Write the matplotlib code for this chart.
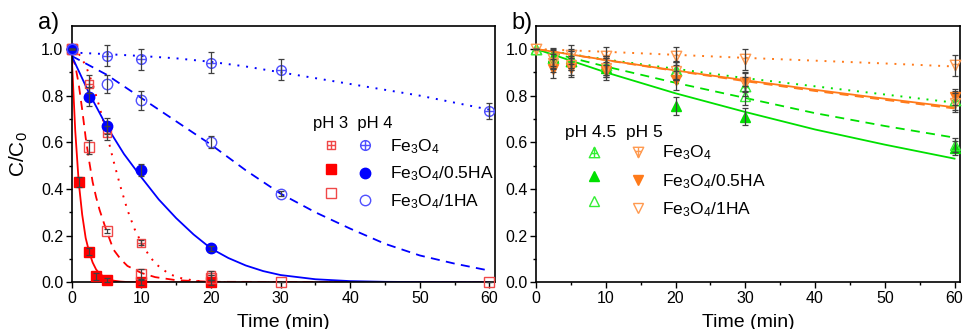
import matplotlib
matplotlib.use('Agg')
import matplotlib.pyplot as plt
from matplotlib.path import Path
import numpy as np

plt.rcParams['font.family'] = ['Liberation Sans', 'DejaVu Sans']
plt.rcParams['mathtext.fontset'] = 'custom'
plt.rcParams['mathtext.rm'] = 'Liberation Sans'
plt.rcParams['mathtext.default'] = 'regular'

# ---------------- panel a data (pH 3 red, pH 4 blue) ----------------
t_r_fe = [0, 2.5, 5, 10, 20]
c_r_fe = [1.0, 0.85, 0.64, 0.17, 0.03]
e_r_fe = [0, 0.04, 0.03, 0.01, 0.02]

t_r_05 = [0, 1, 2.5, 3.5, 5, 10, 20]
c_r_05 = [1.0, 0.43, 0.13, 0.025, 0.01, 0.0, 0.0]
e_r_05 = [0, 0.02, 0.015, 0.015, 0.01, 0.01, 0.01]

t_r_1 = [0, 2.5, 5, 10, 20, 30, 60]
c_r_1 = [1.0, 0.58, 0.22, 0.035, 0.02, 0.0, 0.0]
e_r_1 = [0, 0.03, 0.01, 0.02, 0.01, 0, 0]

t_b_fe = [0, 5, 10, 20, 30, 60]
c_b_fe = [1.0, 0.97, 0.955, 0.94, 0.91, 0.735]
e_b_fe = [0, 0.045, 0.045, 0.045, 0.045, 0.035]

t_b_05 = [0, 2.5, 5, 10, 20]
c_b_05 = [1.0, 0.795, 0.67, 0.48, 0.145]
e_b_05 = [0, 0.04, 0.035, 0.025, 0.01]

t_b_1 = [0, 5, 10, 20, 30]
c_b_1 = [1.0, 0.85, 0.78, 0.60, 0.38]
e_b_1 = [0, 0.04, 0.04, 0.025, 0.01]

# fitted curves
ft_r_fe = [0, 1, 2, 3, 4, 5, 6, 7, 8, 9, 10, 11, 12, 14, 16, 18, 20, 25, 60]
fc_r_fe = [1.0, 0.98, 0.93, 0.85, 0.75, 0.64, 0.52, 0.41, 0.31, 0.23, 0.17, 0.12, 0.08, 0.035, 0.015, 0.006, 0.002, 0, 0]
ft_r_05 = [0, 0.5, 1, 1.5, 2, 2.5, 3, 3.5, 4, 5, 6, 7, 8, 10, 60]
fc_r_05 = [0.97, 0.65, 0.43, 0.29, 0.19, 0.13, 0.085, 0.055, 0.037, 0.016, 0.007, 0.003, 0.001, 0, 0]
ft_r_1 = [0, 0.5, 1, 1.5, 2, 2.5, 3, 3.5, 4, 5, 6, 7, 8, 10, 12, 15, 20, 60]
fc_r_1 = [0.97, 0.93, 0.85, 0.74, 0.62, 0.52, 0.43, 0.365, 0.31, 0.22, 0.14, 0.10, 0.07, 0.04, 0.022, 0.009, 0.002, 0]
ft_b_fe = [0, 5, 10, 15, 20, 25, 30, 35, 40, 45, 50, 55, 60]
fc_b_fe = [0.985, 0.978, 0.97, 0.96, 0.945, 0.925, 0.90, 0.875, 0.85, 0.825, 0.80, 0.77, 0.74]
ft_b_05 = [0, 2.5, 5, 7.5, 10, 12.5, 15, 17.5, 20, 22.5, 25, 27.5, 30, 35, 40, 45, 50, 60]
fc_b_05 = [0.97, 0.81, 0.67, 0.55, 0.45, 0.355, 0.275, 0.205, 0.145, 0.104, 0.072, 0.048, 0.031, 0.013, 0.005, 0.002, 0.001, 0]
ft_b_1 = [0, 5, 10, 15, 20, 25, 30, 35, 40, 45, 50, 55, 60]
fc_b_1 = [0.97, 0.89, 0.79, 0.69, 0.59, 0.48, 0.38, 0.30, 0.23, 0.165, 0.115, 0.08, 0.05]

# ---------------- panel b data (pH 4.5 green, pH 5 orange) ----------------
t_g_fe = [0, 2.5, 5, 10, 20, 30, 60]
c_g_fe = [1.0, 0.96, 0.95, 0.93, 0.91, 0.84, 0.78]
e_g_fe = [0, 0.04, 0.04, 0.04, 0.04, 0.04, 0.04]

t_g_05 = [2.5, 5, 10, 20, 30, 60]
c_g_05 = [0.965, 0.95, 0.92, 0.755, 0.71, 0.575]
e_g_05 = [0.04, 0.04, 0.04, 0.04, 0.035, 0.03]

t_g_1 = [0, 5, 10, 20, 30, 60]
c_g_1 = [1.0, 0.96, 0.93, 0.905, 0.80, 0.59]
e_g_1 = [0, 0.04, 0.04, 0.04, 0.04, 0.03]

t_o_fe = [0, 2.5, 5, 10, 20, 30, 60]
c_o_fe = [1.0, 0.955, 0.975, 0.97, 0.97, 0.955, 0.93]
e_o_fe = [0, 0.04, 0.04, 0.04, 0.04, 0.045, 0.045]

t_o_05 = [2.5, 5, 10, 20, 30, 60]
c_o_05 = [0.915, 0.92, 0.905, 0.865, 0.855, 0.795]
e_o_05 = [0.04, 0.04, 0.04, 0.04, 0.04, 0.035]

t_o_1 = [2.5, 5, 10, 20, 30, 60]
c_o_1 = [0.94, 0.93, 0.92, 0.905, 0.86, 0.77]
e_o_1 = [0.04, 0.04, 0.04, 0.04, 0.04, 0.04]

ft_b = [0, 10, 20, 30, 40, 50, 60]
fc_g_fe = [1.0, 0.955, 0.915, 0.875, 0.84, 0.805, 0.77]
fc_g_05 = [1.0, 0.90, 0.81, 0.73, 0.655, 0.59, 0.53]
fc_g_1 = [1.0, 0.925, 0.855, 0.79, 0.725, 0.67, 0.62]
fc_o_fe = [1.0, 0.988, 0.975, 0.962, 0.95, 0.938, 0.925]
fc_o_05 = [1.0, 0.953, 0.908, 0.866, 0.825, 0.787, 0.75]
fc_o_1 = [1.0, 0.952, 0.906, 0.862, 0.82, 0.782, 0.745]

labels = ['Fe$_3$O$_4$', 'Fe$_3$O$_4$/0.5HA', 'Fe$_3$O$_4$/1HA']


# crossed marker shapes
def crossed(shape):
    M, L, C = Path.MOVETO, Path.LINETO, Path.CLOSEPOLY
    if shape == 'circle':
        circ = Path.unit_circle()
        verts = list(circ.vertices) + [(-1, 0), (1, 0), (0, -1), (0, 1)]
        codes = list(circ.codes) + [M, L, M, L]
    elif shape == 'square':
        verts = [(-1, -1), (1, -1), (1, 1), (-1, 1), (-1, -1), (-1, 0), (1, 0), (0, -1), (0, 1)]
        codes = [M, L, L, L, C, M, L, M, L]
    elif shape == 'up':
        verts = [(0, 1), (-1, -1), (1, -1), (0, 1), (0, 1), (0, -1), (-0.6, -0.2), (0.6, -0.2)]
        codes = [M, L, L, C, M, L, M, L]
    else:
        verts = [(0, -1), (-1, 1), (1, 1), (0, -1), (0, -1), (0, 1), (-0.6, 0.2), (0.6, 0.2)]
        codes = [M, L, L, C, M, L, M, L]
    return Path(verts, codes)


RED, RED_L = '#ff0000', '#f04848'
BLUE, BLUE_L = '#0000ff', '#5050ff'
GREEN, GREEN_L = '#00e000', '#33ee33'
ORANGE, ORANGE_L = '#ff7a1a', '#ff9a50'
ERR = '#404040'
DOT = (0, (1, 3.5))
DASH = (0, (5, 3.5))


def series(ax, t, c, e, marker, ms, fc, ec):
    ax.plot(t, c, ls='none', marker=marker, ms=ms, mfc=fc, mec=ec, mew=1.0,
            zorder=3, clip_on=False)
    ax.errorbar(t, c, yerr=e, fmt='none', ecolor=ERR, elinewidth=0.9,
                capsize=2.5, capthick=0.9, zorder=4, clip_on=False)


def style(ax):
    ax.set_xlim(0, 60.8)
    ax.set_ylim(0, 1.1)
    ax.set_xticks([0, 10, 20, 30, 40, 50, 60])
    ax.set_xticks(np.arange(5, 60, 10), minor=True)
    ax.set_yticks([0, 0.2, 0.4, 0.6, 0.8, 1.0])
    ax.set_yticks(np.arange(0.1, 1.1, 0.2), minor=True)
    ax.yaxis.set_major_formatter(matplotlib.ticker.FormatStrFormatter('%.1f'))
    ax.tick_params(which='major', length=4, width=1, labelsize=11.5, pad=2)
    ax.tick_params(which='minor', length=2.5, width=1)
    for s in ax.spines.values():
        s.set_linewidth(1.2)
    ax.set_xlabel('Time (min)', fontsize=14, labelpad=6)


fig = plt.figure(figsize=(9.63, 3.29), dpi=100)
axa = fig.add_axes([0.0745, 0.142, 0.4395, 0.780])
axb = fig.add_axes([0.5566, 0.142, 0.4404, 0.780])

# ---- panel a ----
axa.plot(ft_r_fe, fc_r_fe, color=RED, ls=DOT, lw=1.4, zorder=2)
axa.plot(ft_r_05, fc_r_05, color=RED, ls='-', lw=1.3, zorder=2)
axa.plot(ft_r_1, fc_r_1, color=RED, ls=DASH, lw=1.3, zorder=2)
axa.plot(ft_b_fe, fc_b_fe, color=BLUE, ls=DOT, lw=1.4, zorder=2)
axa.plot(ft_b_05, fc_b_05, color=BLUE, ls='-', lw=1.3, zorder=2)
axa.plot(ft_b_1, fc_b_1, color=BLUE, ls=DASH, lw=1.3, zorder=2)

series(axa, t_r_fe, c_r_fe, e_r_fe, crossed('square'), 6, 'none', RED_L)
series(axa, t_r_05, c_r_05, e_r_05, 's', 6.5, RED, RED)
series(axa, t_r_1, c_r_1, e_r_1, 's', 6.5, 'none', RED_L)
series(axa, t_b_fe, c_b_fe, e_b_fe, crossed('circle'), 7, 'none', BLUE_L)
series(axa, t_b_05, c_b_05, e_b_05, 'o', 7.5, BLUE, BLUE)
series(axa, t_b_1, c_b_1, e_b_1, 'o', 7.5, 'none', BLUE_L)

style(axa)
axa.set_ylabel('C/C$_0$', fontsize=15, labelpad=8)

ha = [axa.plot([], [], ls='none', marker=m, ms=s, mfc=f, mec=ec, mew=1.0)[0]
      for m, s, f, ec in [(crossed('square'), 6, 'none', RED_L), ('s', 6.5, RED, RED),
                          ('s', 6.5, 'none', RED_L), (crossed('circle'), 7, 'none', BLUE_L),
                          ('o', 7.5, BLUE, BLUE), ('o', 7.5, 'none', BLUE_L)]]
leg = axa.legend(ha, ['', '', ''] + labels, ncol=2, frameon=False, fontsize=12.5,
                 loc='upper left', bbox_to_anchor=(0.593, 0.565), borderpad=0,
                 handlelength=1.0, handletextpad=0.95, columnspacing=0.0,
                 labelspacing=0.5, borderaxespad=0)
axa.text(0.570, 0.618, 'pH 3  pH 4', transform=axa.transAxes, fontsize=12,
         ha='left', va='center')

# ---- panel b ----
axb.plot(ft_b, fc_g_fe, color=GREEN, ls=DOT, lw=1.4, zorder=2)
axb.plot(ft_b, fc_g_05, color=GREEN, ls='-', lw=1.3, zorder=2)
axb.plot(ft_b, fc_g_1, color=GREEN, ls=DASH, lw=1.3, zorder=2)
axb.plot(ft_b, fc_o_fe, color=ORANGE, ls=DOT, lw=1.4, zorder=2)
axb.plot(ft_b, fc_o_05, color=ORANGE, ls='-', lw=1.3, zorder=2)
axb.plot(ft_b, fc_o_1, color=ORANGE, ls=DASH, lw=1.3, zorder=2)

series(axb, t_g_fe, c_g_fe, e_g_fe, crossed('up'), 7.5, 'none', GREEN_L)
series(axb, t_g_05, c_g_05, e_g_05, '^', 7.5, GREEN, GREEN)
series(axb, t_g_1, c_g_1, e_g_1, '^', 7.5, 'none', GREEN_L)
series(axb, t_o_fe, c_o_fe, e_o_fe, crossed('down'), 7.5, 'none', ORANGE_L)
series(axb, t_o_05, c_o_05, e_o_05, 'v', 7.5, ORANGE, ORANGE)
series(axb, t_o_1, c_o_1, e_o_1, 'v', 7.5, 'none', ORANGE_L)

style(axb)

hb = [axb.plot([], [], ls='none', marker=m, ms=7.5, mfc=f, mec=ec, mew=1.0)[0]
      for m, f, ec in [(crossed('up'), 'none', GREEN_L), ('^', GREEN, GREEN),
                       ('^', 'none', GREEN_L), (crossed('down'), 'none', ORANGE_L),
                       ('v', ORANGE, ORANGE), ('v', 'none', ORANGE_L)]]
axb.legend(hb, ['', '', ''] + labels, ncol=2, frameon=False, fontsize=12.5,
           loc='upper left', bbox_to_anchor=(0.117, 0.540), borderpad=0,
           handlelength=1.0, handletextpad=0.92, columnspacing=0.58,
           labelspacing=0.55, borderaxespad=0)
axb.text(0.068, 0.583, 'pH 4.5  pH 5', transform=axb.transAxes, fontsize=12.5,
         ha='left', va='center')

fig.text(0.050, 0.930, 'a)', fontsize=17, ha='center', va='center')
fig.text(0.542, 0.930, 'b)', fontsize=17, ha='center', va='center')

fig.savefig('out.png', dpi=100)
